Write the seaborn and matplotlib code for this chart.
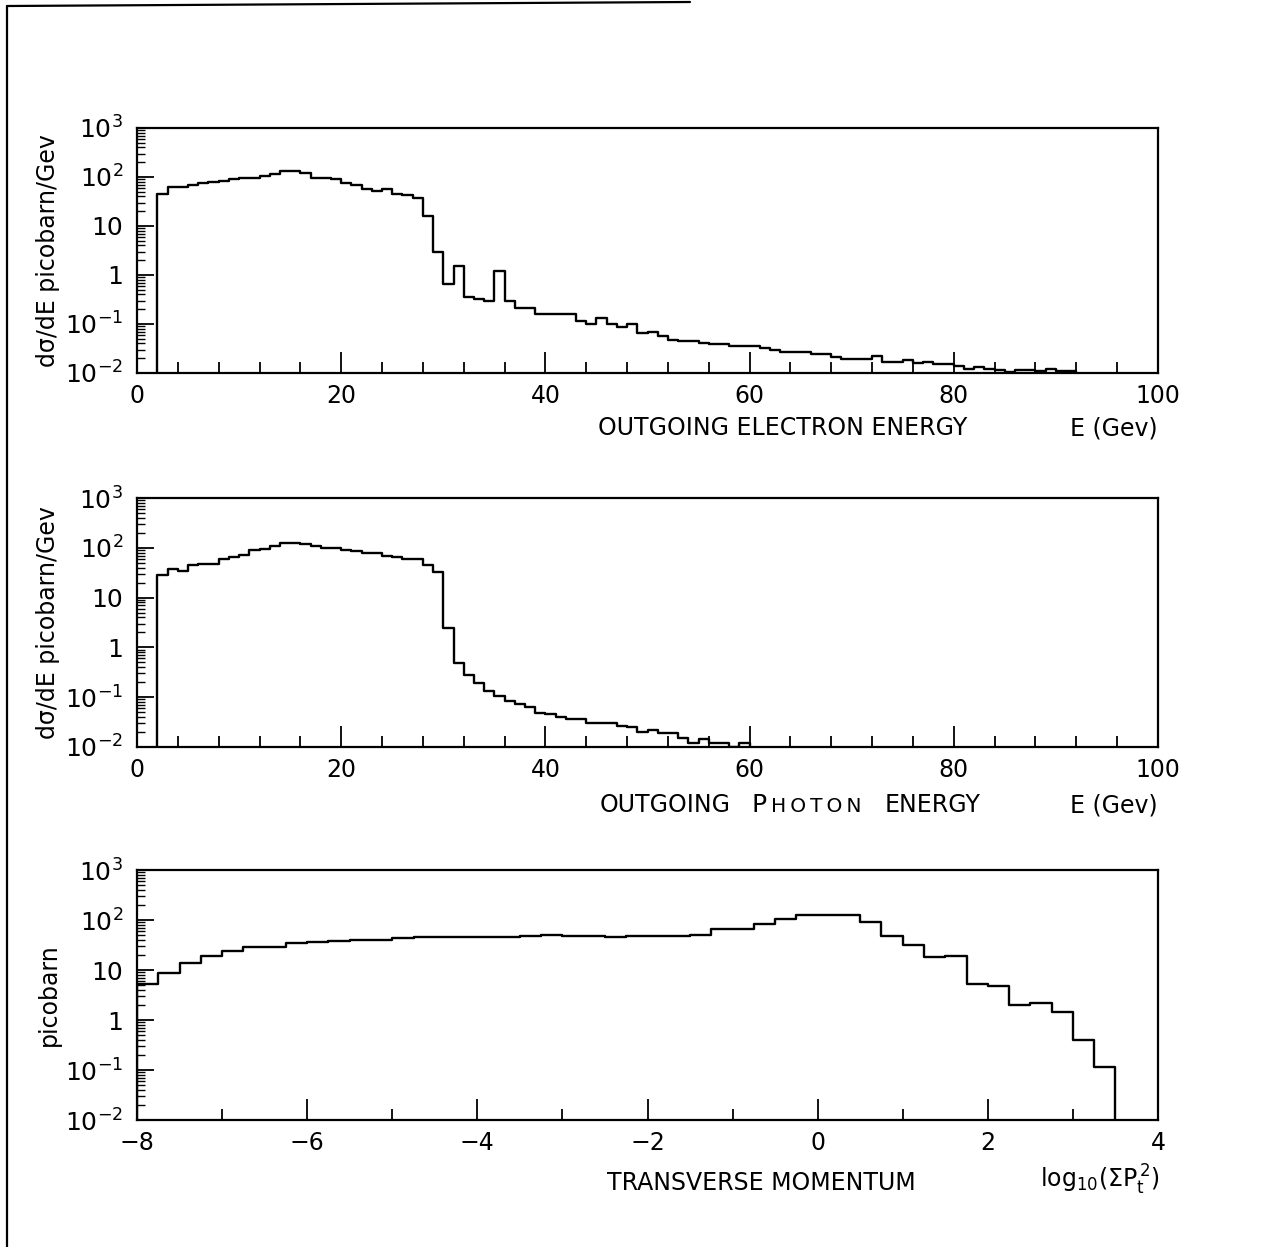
import numpy as np
import pandas as pd
import matplotlib
matplotlib.use("Agg")
import matplotlib.pyplot as plt
import seaborn as sns
from matplotlib.ticker import FixedLocator, MultipleLocator, LogLocator, NullFormatter
from matplotlib.lines import Line2D

# ---------------- data ----------------
# Panel 1: outgoing electron energy, 1 GeV bins starting at 2 GeV
elec_start = 2.0
elec_width = 1.0
elec_vals = [44, 62, 62, 68, 74, 80, 83, 89, 97, 97,
             105, 117, 131, 131, 119, 97, 97, 89, 74, 68,
             57, 51, 56, 44, 42, 38, 16, 2.95, 0.65, 1.5,
             0.355, 0.33, 0.30, 1.2, 0.29, 0.21, 0.21, 0.16, 0.16, 0.16,
             0.16, 0.115, 0.10, 0.13, 0.10, 0.085, 0.10, 0.065, 0.07, 0.056,
             0.048, 0.044, 0.044, 0.041, 0.039, 0.039, 0.036, 0.036, 0.036, 0.032,
             0.030, 0.027, 0.027, 0.027, 0.024, 0.025, 0.021, 0.019, 0.019, 0.019,
             0.022, 0.017, 0.017, 0.018, 0.016, 0.017, 0.015, 0.015, 0.014, 0.012,
             0.013, 0.012, 0.0115, 0.0105, 0.0115, 0.0115, 0.0108, 0.012, 0.0108, 0.0108]

# Panel 2: outgoing photon energy, 1 GeV bins starting at 2 GeV
phot_start = 2.0
phot_width = 1.0
phot_vals = [29, 37, 35, 46, 48, 48, 60, 66, 73, 90,
             93, 108, 122, 122, 117, 108, 100, 100, 90, 86,
             79, 79, 70, 66, 60, 60, 46, 32, 2.5, 0.48,
             0.28, 0.19, 0.135, 0.107, 0.082, 0.072, 0.065, 0.049, 0.046, 0.04,
             0.036, 0.036, 0.031, 0.031, 0.03, 0.027, 0.025, 0.02, 0.022, 0.019,
             0.019, 0.015, 0.012, 0.0145, 0.012, 0.012, 0.0098, 0.012]

# Panel 3: transverse momentum, log10(sum Pt^2), 0.25 bins starting at -8
pt_start = -8.0
pt_width = 0.25
pt_vals = [5.2, 8.8, 13.5, 19, 24, 29, 29, 34, 37, 38,
           39, 40, 44, 45, 45, 46, 46, 46, 47, 50,
           48, 48, 46, 47, 47, 48, 49, 65, 66, 82,
           107, 124, 125, 124, 91, 47, 31, 18, 19, 5.3,
           4.7, 2.0, 2.2, 1.45, 0.40, 0.115]

energy_ticks = [0, 20, 40, 60, 80, 100]
pt_ticks = [-8, -6, -4, -2, 0, 2, 4]
decade_ticks = [1e-2, 1e-1, 1, 10, 1e2, 1e3]
decade_labels = [r"$10^{-2}$", r"$10^{-1}$", "1", "10", r"$10^{2}$", r"$10^{3}$"]

ylabel_energy = "dσ/dE picobarn/Gev"
ylabel_pt = "picobarn"

# ---------------- style ----------------
sns.set_style("ticks")
plt.rcParams["font.family"] = ["DejaVu Sans"]
plt.rcParams["mathtext.default"] = "regular"
plt.rcParams["text.color"] = "black"
plt.rcParams["axes.labelcolor"] = "black"
plt.rcParams["xtick.color"] = "black"
plt.rcParams["ytick.color"] = "black"
plt.rcParams["axes.edgecolor"] = "black"

W, H = 1286, 1247
fig = plt.figure(figsize=(W / 100, H / 100), dpi=100)
fig.patch.set_facecolor("white")


def make_df(start, width, vals):
    vals = list(vals)
    # pad with an empty bin on each side so the outline drops to the axis
    n = len(vals)
    edges = [float(e) for e in start + width * np.arange(-1, n + 2)]
    weights = [0.0] + [float(v) for v in vals] + [0.0]
    centers = [(edges[i] + edges[i + 1]) / 2 for i in range(len(edges) - 1)]
    return pd.DataFrame({"x": centers, "w": weights}), edges


def axes_rect(left, top, right, bottom):
    return [left / W, 1 - bottom / H, (right - left) / W, (bottom - top) / H]


def draw_panel(rect, start, width, vals, xlim, xticks, xminor, ylabel):
    ax = fig.add_axes(rect)
    df, edges = make_df(start, width, vals)
    sns.histplot(data=df, x="x", weights="w", bins=edges, element="step",
                 fill=False, color="black", linewidth=1.7, ax=ax)
    ax.set_yscale("log", nonpositive="clip")
    ax.set_ylim(1e-2, 1e3)
    ax.set_xlim(*xlim)
    ax.set_xlabel("")
    ax.set_ylabel(ylabel, fontsize=17, color="black")
    ax.yaxis.set_label_coords(-0.075, 0.5)
    ax.set_facecolor("white")
    for s in ax.spines.values():
        s.set_visible(True)
        s.set_linewidth(1.6)
        s.set_color("black")
    ax.xaxis.set_major_locator(FixedLocator(xticks))
    ax.xaxis.set_minor_locator(MultipleLocator(xminor))
    ax.set_xticklabels([("−" + str(abs(t))) if t < 0 else str(t) for t in xticks])
    ax.yaxis.set_major_locator(FixedLocator(decade_ticks))
    ax.set_yticklabels(decade_labels)
    ax.yaxis.set_minor_locator(LogLocator(base=10, subs=np.arange(2, 10), numticks=20))
    ax.yaxis.set_minor_formatter(NullFormatter())
    ax.tick_params(axis="x", which="major", direction="in", length=15, width=1.3,
                   labelsize=17, pad=8, top=False, colors="black")
    ax.tick_params(axis="x", which="minor", direction="in", length=8, width=1.3,
                   top=False, colors="black")
    ax.tick_params(axis="y", which="major", direction="in", length=12, width=1.3,
                   labelsize=18, pad=10, right=False, colors="black")
    ax.tick_params(axis="y", which="minor", direction="in", length=6, width=1.0,
                   right=False, colors="black")
    return ax


ax1 = draw_panel(axes_rect(137, 128, 1158, 373), elec_start, elec_width, elec_vals,
                 (0, 100), energy_ticks, 4, ylabel_energy)
ax2 = draw_panel(axes_rect(137, 498, 1158, 747), phot_start, phot_width, phot_vals,
                 (0, 100), energy_ticks, 4, ylabel_energy)
ax3 = draw_panel(axes_rect(137, 870, 1158, 1120), pt_start, pt_width, pt_vals,
                 (-8, 4), pt_ticks, 1, ylabel_pt)


# axis titles
def ftext(x, y, s, **kw):
    fig.text(x / W, 1 - y / H, s, va="center", color="black", **kw)


ftext(598, 428, "OUTGOING ELECTRON ENERGY", fontsize=17, ha="left")
ftext(1158, 428, "E (Gev)", fontsize=17, ha="right")

ftext(600, 805, "OUTGOING", fontsize=17, ha="left")
ftext(751, 805, "P", fontsize=18, ha="left")
ftext(771, 806, "H\u2009O\u2009T\u2009O\u2009N", fontsize=14.5, ha="left")
ftext(885, 805, "ENERGY", fontsize=17, ha="left")
ftext(1158, 805, "E (Gev)", fontsize=17, ha="right")

ftext(607, 1183, "TRANSVERSE MOMENTUM", fontsize=17, ha="left")
ftext(1160, 1180, r"$\mathregular{log_{10}(\Sigma P_t^{\,2})}$", fontsize=17, ha="right")

# page border lines (scan frame)
fig.add_artist(Line2D([7 / W, 7 / W], [1 - 6 / H, 0], transform=fig.transFigure,
                      color="black", linewidth=1.6))
fig.add_artist(Line2D([7 / W, 690 / W], [1 - 6 / H, 1 - 2 / H], transform=fig.transFigure,
                      color="black", linewidth=1.6))

fig.savefig("out.png", dpi=100, facecolor="white")
